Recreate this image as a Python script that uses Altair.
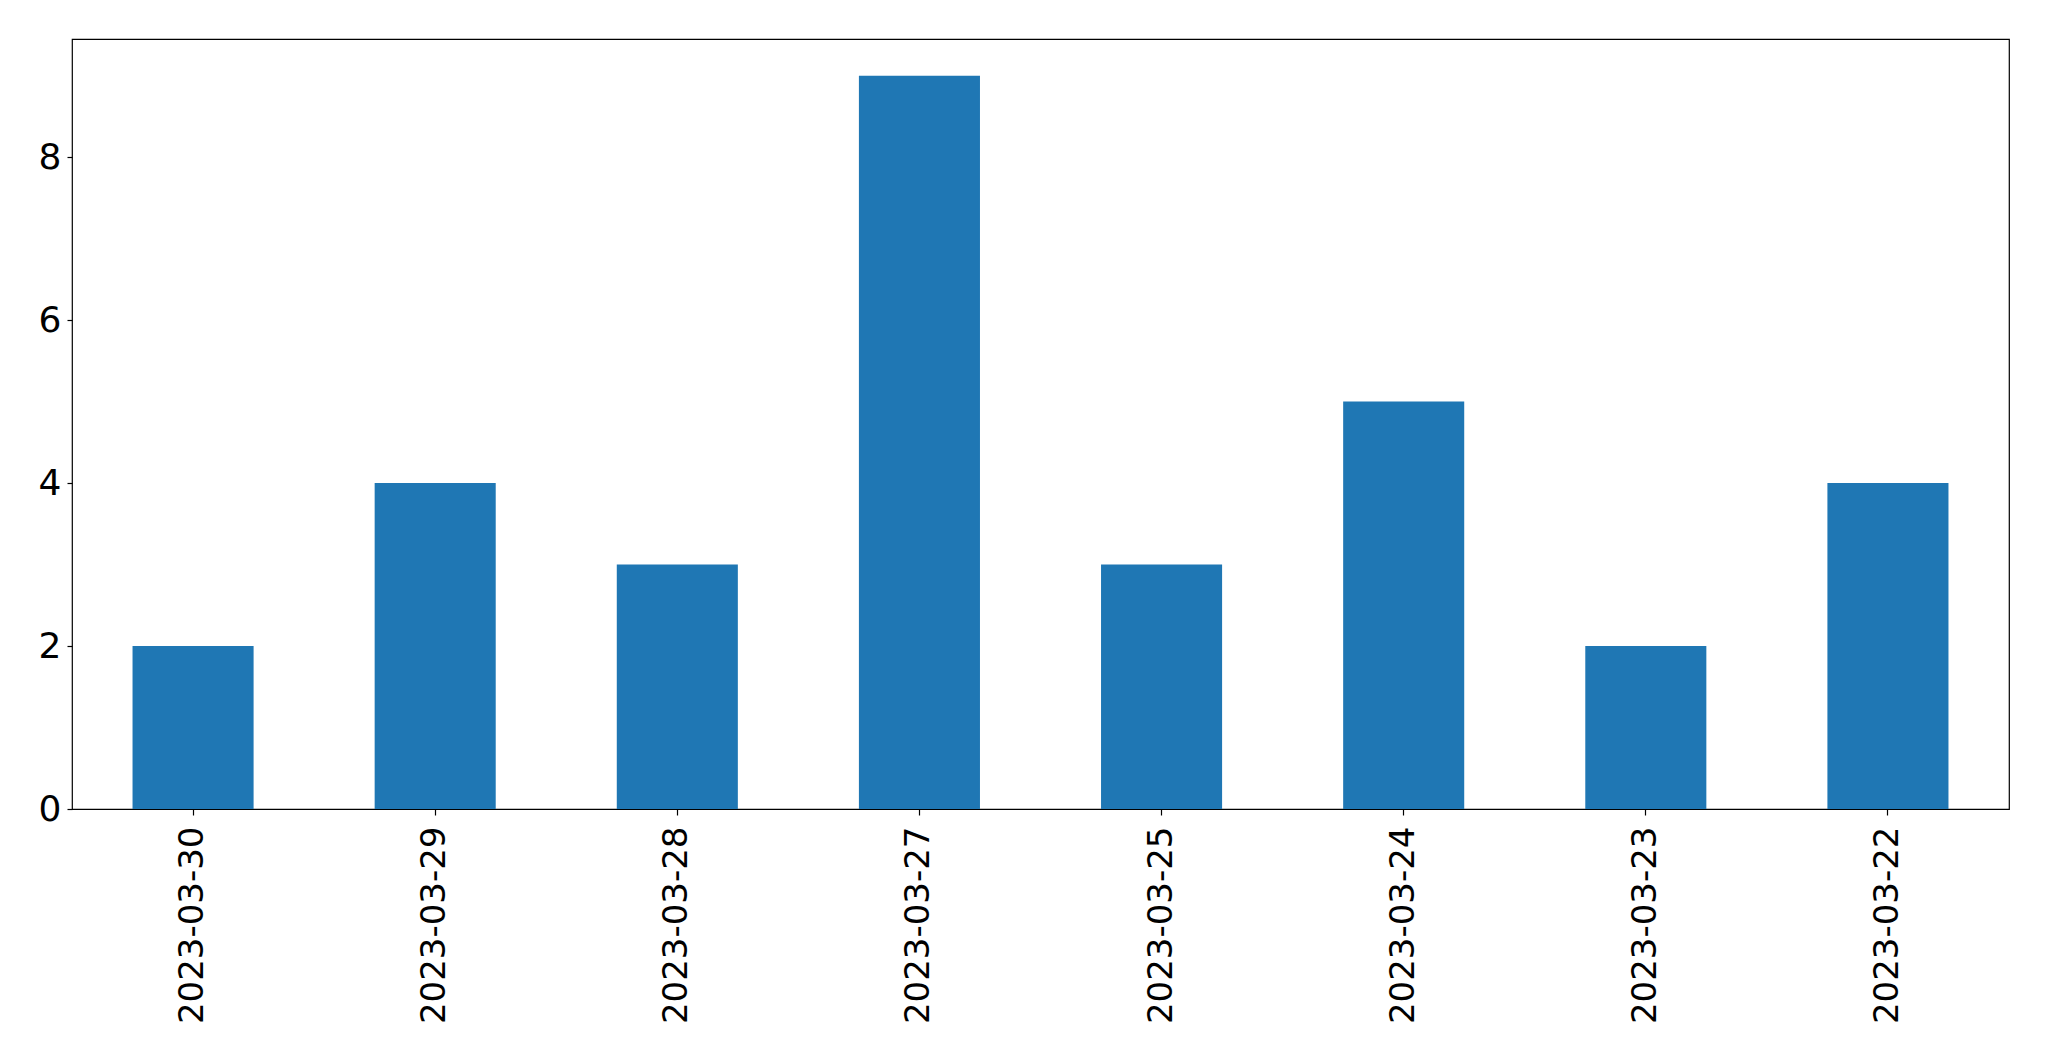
import altair as alt
import pandas as pd

dates = ["2023-03-30", "2023-03-29", "2023-03-28", "2023-03-27",
         "2023-03-25", "2023-03-24", "2023-03-23", "2023-03-22"]
counts = [2, 4, 3, 9, 3, 5, 2, 4]

df = pd.DataFrame({"date": dates, "count": counts})

FONT = "DejaVu Sans"

chart = alt.Chart(df).mark_bar(color="#1f77b4").encode(
    x=alt.X("date:N", sort=None, title=None,
            scale=alt.Scale(paddingInner=0.5, paddingOuter=0.25),
            axis=alt.Axis(labelAngle=-90, labelFontSize=34, labelFont=FONT,
                          labelColor="black", tickColor="black", tickSize=6,
                          tickWidth=1.2, labelPadding=11, domain=False,
                          grid=False, labelLimit=0)),
    y=alt.Y("count:Q", title=None,
            scale=alt.Scale(domain=[0, 9.45], nice=False, zero=True),
            axis=alt.Axis(values=[0, 2, 4, 6, 8], labelFontSize=36,
                          labelFont=FONT, labelColor="black",
                          tickColor="black", tickSize=5, tickWidth=1.2,
                          labelPadding=6, domain=False, grid=False)),
).properties(
    width=1937, height=770,
    background="white",
    autosize=alt.AutoSizeParams(type="none"),
    padding={"left": 64, "top": 31, "right": 32, "bottom": 244},
).configure_view(
    stroke="black", strokeWidth=1.2
)

chart.save("out.html", embed_options={"renderer": "svg", "actions": False})
